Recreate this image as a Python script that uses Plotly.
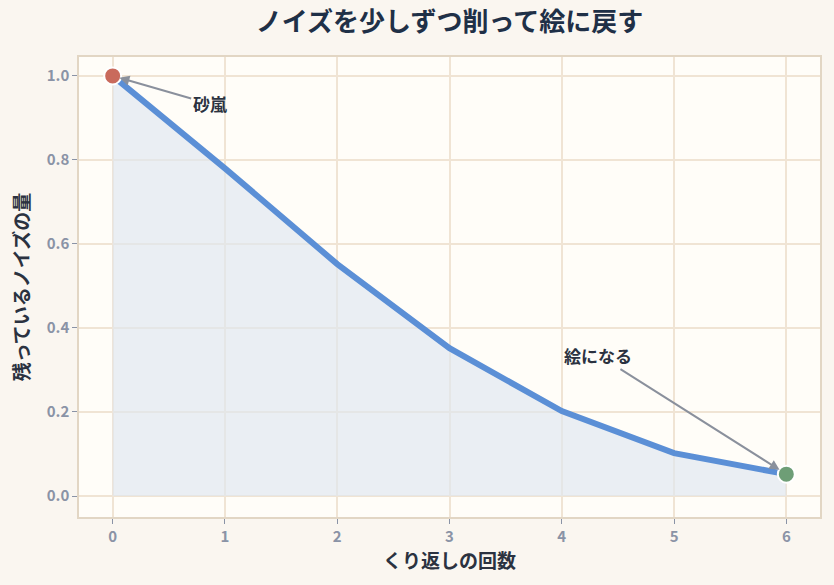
import plotly.graph_objects as go

steps = [0, 1, 2, 3, 4, 5, 6]
noise = [1.0, 0.78, 0.552, 0.352, 0.202, 0.102, 0.052]
x_ticks = [0, 1, 2, 3, 4, 5, 6]
y_ticks = [0.0, 0.2, 0.4, 0.6, 0.8, 1.0]

FONT = "Noto Sans CJK JP"

fig = go.Figure()
fig.add_trace(go.Scatter(
    x=steps, y=noise, mode="lines", fill="tozeroy",
    fillcolor="rgba(223,230,240,0.65)",
    line=dict(color="#5b8fd6", width=6), hoverinfo="skip", showlegend=False))
fig.add_trace(go.Scatter(
    x=[steps[0]], y=[noise[0]], mode="markers",
    marker=dict(size=17, color="#c96a5c", line=dict(color="white", width=2)),
    showlegend=False))
fig.add_trace(go.Scatter(
    x=[steps[-1]], y=[noise[-1]], mode="markers",
    marker=dict(size=17, color="#6e9e76", line=dict(color="white", width=2)),
    showlegend=False))

fig.add_annotation(x=steps[0], y=noise[0], xref="x", yref="y",
                   text="<b>砂嵐</b>", ax=97, ay=28, axref="pixel", ayref="pixel",
                   showarrow=True, arrowhead=2, arrowsize=1, arrowwidth=2,
                   arrowcolor="#8a909c", standoff=7,
                   font=dict(family=FONT, size=17, color="#2b3240"))
fig.add_annotation(x=steps[-1], y=noise[-1], xref="x", yref="y",
                   text="<b>絵になる</b>", ax=-188, ay=-119, axref="pixel", ayref="pixel",
                   showarrow=True, arrowhead=2, arrowsize=1, arrowwidth=2,
                   arrowcolor="#8a909c", standoff=8,
                   font=dict(family=FONT, size=17, color="#2b3240"))

axis_common = dict(
    showgrid=True, gridcolor="#f0e4d4", gridwidth=1.5,
    showline=True, linecolor="#e2d6c4", linewidth=1.5, mirror=True,
    ticks="outside", ticklen=5, tickcolor="#8a93a6", tickwidth=1,
    tickfont=dict(family=FONT, size=15, color="#8a93a6", weight="bold"),
    zeroline=False,
)

fig.update_layout(
    width=834, height=585,
    paper_bgcolor="#faf6f0", plot_bgcolor="#fffdf8",
    margin=dict(l=79, r=12, t=57, b=68),
    title=dict(text="<b>ノイズを少しずつ削って絵に戻す</b>", xref="paper", x=0.5,
               xanchor="center", y=0.962, yanchor="middle",
               font=dict(family=FONT, size=26, color="#1f3047")),
    xaxis=dict(range=[-0.3, 6.3], tickvals=x_ticks,
               title=dict(text="<b>くり返しの回数</b>", standoff=10,
                          font=dict(family=FONT, size=19, color="#2b3240")),
               **axis_common),
    yaxis=dict(range=[-0.05, 1.045], tickvals=y_ticks, tickformat=".1f",
               title=dict(text="<b>残っているノイズの量</b>", standoff=12,
                          font=dict(family=FONT, size=19, color="#2b3240")),
               **axis_common),
    showlegend=False,
)

fig.write_html("out.html")
